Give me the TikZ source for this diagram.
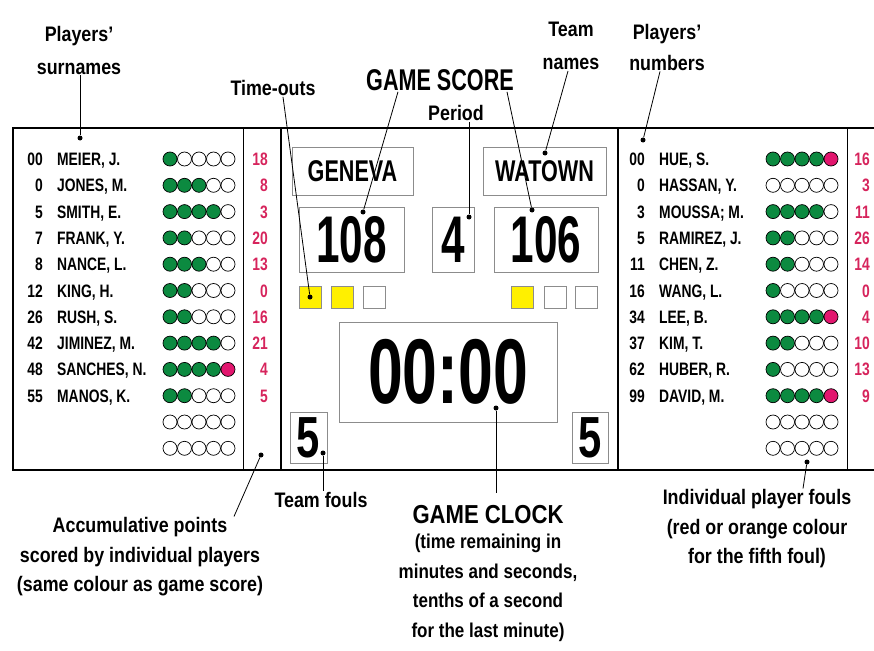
\documentclass[tikz,border=0pt]{standalone}
\usepackage{fontspec}
\setmainfont{Liberation Sans}
\newfontfamily\cnd{Liberation Sans}[FakeStretch=0.85]
\newfontfamily\rowfnt{Liberation Sans}[FakeStretch=0.77]
\newfontfamily\narfont{Liberation Sans}[FakeStretch=0.72]
\newfontfamily\dgt{Liberation Sans}[FakeStretch=0.64]
\newfontfamily\clockfnt{Liberation Sans}[FakeStretch=0.68]
\usetikzlibrary{positioning}

\definecolor{foulgreen}{RGB}{12,138,64}
\definecolor{foulred}{RGB}{226,22,110}
\definecolor{pointred}{RGB}{214,36,92}
\definecolor{toyellow}{RGB}{255,240,0}

\begin{document}
\begin{tikzpicture}[
        x=1pt, y=-1pt,
        frame/.style={line width=2.6pt},
        thinsep/.style={line width=0.8pt},
        panel/.style={rectangle, draw=black!45, line width=0.9pt, inner sep=0pt},
        teambox/.style={panel, minimum height=48pt, font=\narfont\bfseries\fontsize{30}{30}\selectfont},
        scorebox/.style={panel, minimum height=65pt, font=\dgt\bfseries\fontsize{66}{66}\selectfont},
        timeout/.style={panel, minimum size=22pt},
        foulbox/.style={panel, minimum width=37pt, minimum height=51pt, font=\narfont\bfseries\fontsize{58}{58}\selectfont},
        foul/.style={circle, draw, line width=0.7pt, minimum size=14pt, inner sep=0pt},
        pin/.style={circle, fill, minimum size=5pt, inner sep=0pt},
        leader/.style={line width=0.8pt},
        row/.style={font=\rowfnt\bfseries\fontsize{18}{18}\selectfont, inner sep=0pt},
        pts/.style={row, text=pointred},
        lbl/.style={font=\cnd\bfseries\fontsize{21}{33}\selectfont, align=center, inner sep=1pt},
        note/.style={font=\cnd\bfseries\fontsize{21}{29.5}\selectfont, align=center, inner sep=1pt},
        big/.style={font=\narfont\bfseries\fontsize{30}{30}\selectfont, inner sep=1pt}
    ]
    \useasboundingbox (0,0) rectangle (874,650);
    \clip (0,0) rectangle (874,650);

    % Board outline
    \draw[frame] (874,128) -| (13,470) -- (874,470);
    \draw[frame] (281,128) -- (281,470);
    \draw[frame] (618,128) -- (618,470);
    \draw[thinsep] (243,128) -- (243,470);
    \draw[thinsep] (847,128) -- (847,470);

    % Home players
    \foreach \num/\pname/\f/\p [count=\i] in {00/{MEIER, J.}/1/18, 0/{JONES, M.}/3/8, 5/{SMITH, E.}/4/3, 7/{FRANK, Y.}/2/20, 8/{NANCE, L.}/3/13, 12/{KING, H.}/2/0, 26/{RUSH, S.}/2/16, 42/{JIMINEZ, M.}/4/21, 48/{SANCHES, N.}/5/4, 55/{MANOS, K.}/2/5}{
        \pgfmathsetmacro\ry{159+26.3*(\i-1)}
        \node[row, anchor=base east] (Lnum\i) at (43,\ry+6.5) {\num};
        \node[row, anchor=base west] (Lname\i) at (57,\ry+6.5) {\pname};
        \node[pts, anchor=base east] (Lpts\i) at (268,\ry+6.5) {\p};
        \foreach \k in {1,...,5}{
            \ifnum\k>\f\relax\def\fc{white}\else\ifnum\k=5\relax\def\fc{foulred}\else\def\fc{foulgreen}\fi\fi
            \node[foul, fill=\fc] (Lf\i-\k) at ({170+14.5*(\k-1)},\ry) {};
        }
    }
    \foreach \i in {11,12}
        \foreach \k in {1,...,5}
            \node[foul, fill=white] (Lf\i-\k) at ({170+14.5*(\k-1)},{159+26.3*(\i-1)}) {};

    % Guest players
    \foreach \num/\pname/\f/\p [count=\i] in {00/{HUE, S.}/5/16, 0/{HASSAN, Y.}/0/3, 3/{MOUSSA; M.}/4/11, 5/{RAMIREZ, J.}/2/26, 11/{CHEN, Z.}/2/14, 16/{WANG, L.}/1/0, 34/{LEE, B.}/5/4, 37/{KIM, T.}/2/10, 62/{HUBER, R.}/1/13, 99/{DAVID, M.}/5/9}{
        \pgfmathsetmacro\ry{159+26.3*(\i-1)}
        \node[row, anchor=base east] (Rnum\i) at (645,\ry+6.5) {\num};
        \node[row, anchor=base west] (Rname\i) at (659,\ry+6.5) {\pname};
        \node[pts, anchor=base east] (Rpts\i) at (870,\ry+6.5) {\p};
        \foreach \k in {1,...,5}{
            \ifnum\k>\f\relax\def\fc{white}\else\ifnum\k=5\relax\def\fc{foulred}\else\def\fc{foulgreen}\fi\fi
            \node[foul, fill=\fc] (Rf\i-\k) at ({773+14.5*(\k-1)},\ry) {};
        }
    }
    \foreach \i in {11,12}
        \foreach \k in {1,...,5}
            \node[foul, fill=white] (Rf\i-\k) at ({773+14.5*(\k-1)},{159+26.3*(\i-1)}) {};

    % Team names, scores and period
    \node[teambox, minimum width=121pt] (home) at (352.5,171) {GENEVA};
    \node[teambox, minimum width=123pt] (guest) at (544.5,171) {WATOWN};
    \node[scorebox, minimum width=105pt] (homeScore) at (351.5,239.5) {108};
    \node[scorebox, minimum width=42pt] (period) at (453,239.5) {4};
    \node[scorebox, minimum width=104pt] (guestScore) at (546,239.5) {106};

    % Time-outs
    \node[timeout, fill=toyellow] (hto1) at (310,297.5) {};
    \node[timeout, fill=toyellow] (hto2) at (342,297.5) {};
    \node[timeout] (hto3) at (374,297.5) {};
    \node[timeout, fill=toyellow] (gto1) at (522.5,297.5) {};
    \node[timeout] (gto2) at (555,297.5) {};
    \node[timeout] (gto3) at (586,297.5) {};

    % Game clock and team fouls
    \node[panel, minimum width=218pt, minimum height=100pt, font=\clockfnt\bfseries\fontsize{92}{92}\selectfont] (clock) at (448,372) {00:00};
    \node[foulbox] (homeFouls) at (308.5,437.5) {5};
    \node[foulbox, minimum width=36pt] (guestFouls) at (590,437.5) {5};

    % Pointer dots
    \node[pin] (surnameDot) at (80,138) {};
    \node[pin] (numberDot) at (643,140) {};
    \node[pin] (timeDot) at (310,297) {};
    \node[pin] (homeScoreDot) at (363,212) {};
    \node[pin] (guestScoreDot) at (532,210) {};
    \node[pin] (periodDot) at (469,217) {};
    \node[pin] (teamDot) at (545,153) {};
    \node[pin] (clockDot) at (496,408) {};
    \node[pin] (teamFoulDot) at (323,453) {};
    \node[pin] (pointsDot) at (261,455) {};
    \node[pin] (playerFoulDot) at (807,462) {};

    % Labels above
    \node[lbl] (surnameLbl) at (79,50) {Players’\\surnames};
    \node[lbl] (timeLbl) at (273,88) {Time-outs};
    \node[big] (scoreLbl) at (440,80) {GAME SCORE};
    \node[lbl] (periodLbl) at (456,113) {Period};
    \node[lbl] (teamLbl) at (571,46) {Team\\names};
    \node[lbl, font=\cnd\bfseries\fontsize{21}{31}\selectfont] (numberLbl) at (667,47) {Players’\\numbers};

    % Labels below
    \node[lbl] (teamFoulLbl) at (321,500) {Team fouls};
    \node[note] (pointsLbl) at (140,557) {Accumulative points\\scored by individual players\\(same colour as game score)};
    \node[lbl, font=\cnd\bfseries\fontsize{26}{26}\selectfont] (clockLbl) at (488,515) {GAME CLOCK};
    \node[note, font=\cnd\bfseries\fontsize{20}{29.6}\selectfont] (clockNote) at (488,588) {(time remaining in\\minutes and seconds,\\tenths of a second\\for the last minute)};
    \node[note] (playerFoulLbl) at (757,529) {Individual player fouls\\(red or orange colour\\for the fifth foul)};

    % Leader lines
    \draw[leader] (surnameLbl.south -| surnameDot) -- (surnameDot);
    \draw[leader] ([xshift=10pt]timeLbl.south) -- (timeDot);
    \draw[leader] ([xshift=-42pt]scoreLbl.south) -- (homeScoreDot);
    \draw[leader] ([xshift=67pt]scoreLbl.south) -- (guestScoreDot);
    \draw[leader] (periodDot |- periodLbl.south) -- (periodDot);
    \draw[leader] ([xshift=-3pt]teamLbl.south) -- (teamDot);
    \draw[leader] ([xshift=-7pt]numberLbl.south) -- (numberDot);
    \draw[leader, shorten >=12pt] (clockDot) -- (clockDot |- clockLbl.north);
    \draw[leader] (teamFoulDot) -- (teamFoulDot |- teamFoulLbl.north);
    \draw[leader] (pointsDot) -- ([xshift=94pt]pointsLbl.north);
    \draw[leader] (playerFoulDot) -- ([xshift=46pt]playerFoulLbl.north);

\end{tikzpicture}
\end{document}
